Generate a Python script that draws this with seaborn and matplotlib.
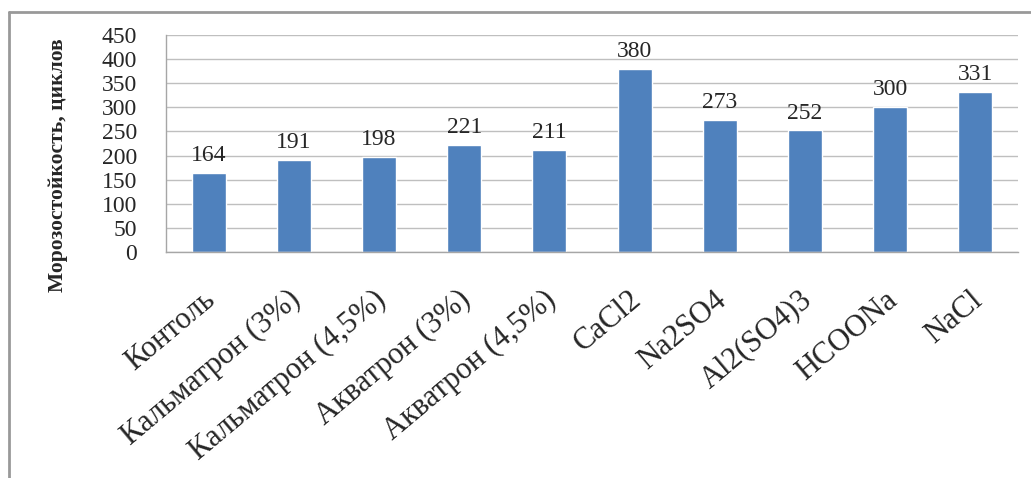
import matplotlib
matplotlib.use("Agg")
import matplotlib.pyplot as plt
import matplotlib.transforms as mtransforms
import seaborn as sns
import pandas as pd
from matplotlib.lines import Line2D

categories = ["Контоль", "Кальматрон (3%)", "Кальматрон (4,5%)", "Акватрон (3%)",
              "Акватрон (4,5%)", "CaCl2", "Na2SO4", "Al2(SO4)3", "HCOONa", "NaCl"]
values = [164, 191, 198, 221, 211, 380, 273, 252, 300, 331]
yticks = [0, 50, 100, 150, 200, 250, 300, 350, 400, 450]
ylabel = "Морозостойкость, циклов"

sns.set_style("white")
plt.rcParams['font.family'] = ['Liberation Serif', 'DejaVu Serif']

W, H = 1031, 478
fig = plt.figure(figsize=(W / 100, H / 100), dpi=100)
ax = fig.add_axes([166 / W, 1 - 252 / H, (1018 - 166) / W, (252 - 35) / H])

df = pd.DataFrame({"cat": categories, "val": values})
sns.barplot(data=df, x="cat", y="val", color="#4F81BD", saturation=1, width=0.4, ax=ax)

ax.set_xlim(-0.5, len(categories) - 0.5)
ax.set_ylim(0, 450)
ax.set_yticks(yticks)
ax.set_yticklabels([str(t) for t in yticks], fontsize=17)
ax.yaxis.grid(True, color="#BFBFBF", linewidth=1)
ax.set_axisbelow(True)

for sp in ["top", "right"]:
    ax.spines[sp].set_visible(False)
for sp in ["left", "bottom"]:
    ax.spines[sp].set_color("#A6A6A6")
    ax.spines[sp].set_linewidth(1)

ax.tick_params(axis="y", which="major", length=7, color="#A6A6A6", direction="out", pad=14)
ax.set_xticks(range(len(categories)))
ax.set_xticks([i - 0.5 for i in range(len(categories) + 1)], minor=True)
ax.tick_params(axis="x", which="major", length=0, pad=24)
ax.tick_params(axis="x", which="minor", length=6, color="#A6A6A6", direction="out")
ax.set_xticklabels(categories, rotation=40, ha="right", rotation_mode="anchor", fontsize=22)
for lbl in ax.get_xticklabels():
    lbl.set_transform(lbl.get_transform() + mtransforms.ScaledTranslation(-0.06, 0, fig.dpi_scale_trans))

ax.set_xlabel("")
ax.set_ylabel(ylabel, fontsize=15.5, fontweight="bold")
ax.yaxis.set_label_coords(-(166 - 68) / (1018 - 166), 0.40)

for i, v in enumerate(values):
    ax.annotate(str(v), (i, v), xytext=(0, 5), textcoords="offset points",
                ha="center", va="bottom", fontsize=17)

fig.add_artist(Line2D([9 / W, 9 / W], [0, 1 - 12 / H], transform=fig.transFigure, color="#999999", linewidth=2))
fig.add_artist(Line2D([9 / W, 1], [1 - 12 / H, 1 - 12 / H], transform=fig.transFigure, color="#999999", linewidth=2))

fig.savefig("out.png", dpi=100)
